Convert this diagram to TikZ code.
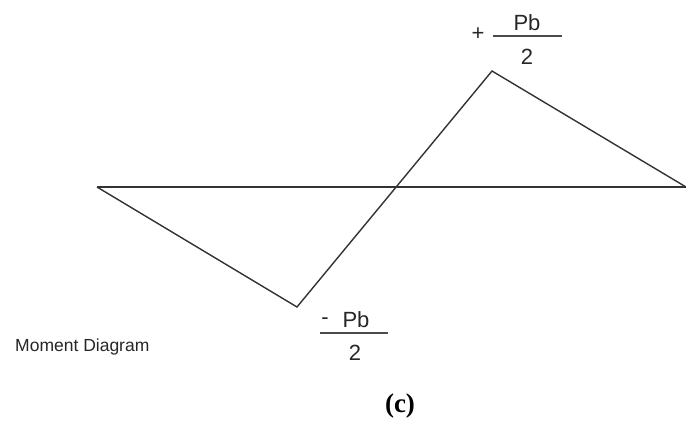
\documentclass[tikz,border=0pt]{standalone}
\usepackage{fontspec}
\setmainfont{Liberation Sans}
\newfontfamily\serifbold{Liberation Serif}
\begin{document}
\begin{tikzpicture}[x=1pt,y=-1pt,
  diag/.style={line width=1.4pt,draw=black!80,line join=miter},
  fracline/.style={line width=1.2pt,draw=black!70},
  lbl/.style={inner sep=0pt,font=\fontsize{22}{24}\selectfont,text=black!85},
  caption/.style={inner sep=0pt,font=\fontsize{17.5}{19}\selectfont,text=black!85},
  tag/.style={inner sep=0pt,font=\serifbold\bfseries\fontsize{27}{29}\selectfont}]
\useasboundingbox (0,0) rectangle (686,422);
\coordinate (L) at (97,187);
\coordinate (R) at (686,187);
\coordinate (B) at (297,307);
\coordinate (T) at (492,71);
\draw[diag] (L) -- (R);
\draw[diag] (L) -- (B) -- (T) -- (R);
% top label
\node[lbl] (plus) at (478,34) {+};
\node[lbl] (pbtop) at (527,23) {Pb};
\coordinate (ftl) at (493,36);
\coordinate (ftr) at (562,36);
\draw[fracline] (ftl) -- (ftr);
\node[lbl] (twotop) at (527,57) {2};
% bottom label
\node[lbl] (minus) at (325,321) {-};
\node[lbl] (pbbot) at (356,320) {Pb};
\coordinate (fbl) at (320,333);
\coordinate (fbr) at (388,333);
\draw[fracline] (fbl) -- (fbr);
\node[lbl] (twobot) at (355,353) {2};
\node[caption,anchor=base west] (md) at (15,352) {Moment Diagram};
\node[tag] (c) at (400,406) {(c)};
\end{tikzpicture}
\end{document}
